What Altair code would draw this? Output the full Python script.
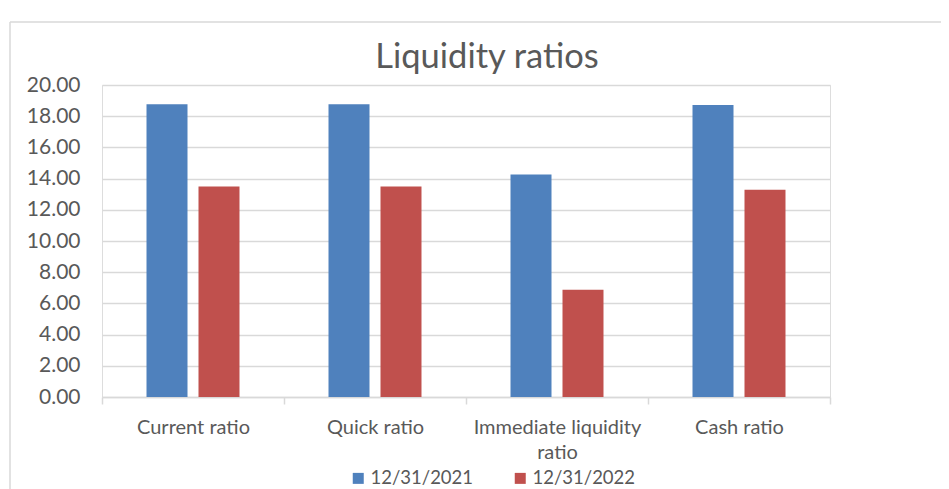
import altair as alt
import pandas as pd

# ---- data ----
categories = ["Current ratio", "Quick ratio", "Immediate liquidity ratio", "Cash ratio"]
series = ["12/31/2021", "12/31/2022"]
values_2021 = [18.77, 18.77, 14.27, 18.72]
values_2022 = [13.50, 13.50, 6.88, 13.29]
y_ticks = [0, 2, 4, 6, 8, 10, 12, 14, 16, 18, 20]
colors = ["#4F81BD", "#C0504D"]

rows = []
for cat, a, b in zip(categories, values_2021, values_2022):
    rows.append({"category": cat, "date": series[0], "value": a})
    rows.append({"category": cat, "date": series[1], "value": b})
df = pd.DataFrame(rows)

FONT = "Lato"
TXT = "#595959"
GRID = "#d9d9d9"
W, H = 728, 312
PAD = {"left": 94, "top": 77, "right": 111, "bottom": 92}

bars = alt.Chart(df).mark_bar().encode(
    x=alt.X(
        "category:N",
        sort=categories,
        scale=alt.Scale(paddingInner=0, paddingOuter=0),
        axis=alt.Axis(
            title=None,
            labelAngle=0,
            tickBand="extent",
            ticks=True,
            tickSize=7,
            tickColor=GRID,
            tickWidth=1.5,
            domainColor=GRID,
            domainWidth=1.5,
            grid=False,
            labelFont=FONT,
            labelFontSize=20,
            labelColor=TXT,
            labelPadding=13,
            labelLimit=400,
            labelLineHeight=25,
            labelExpr="datum.value == 'Immediate liquidity ratio' ? ['Immediate liquidity', 'ratio'] : datum.value",
        ),
    ),
    xOffset=alt.XOffset(
        "date:N",
        sort=series,
        scale=alt.Scale(paddingInner=0.2115, paddingOuter=0.856),
    ),
    y=alt.Y(
        "value:Q",
        scale=alt.Scale(domain=[0, 20], nice=False),
        axis=alt.Axis(
            title=None,
            values=y_ticks,
            format=".2f",
            domain=False,
            ticks=False,
            grid=True,
            gridColor=GRID,
            gridWidth=1.5,
            labelFont=FONT,
            labelFontSize=21,
            labelColor=TXT,
            labelPadding=22,
        ),
    ),
    color=alt.Color(
        "date:N",
        sort=series,
        scale=alt.Scale(domain=series, range=colors),
        legend=alt.Legend(
            title=None,
            orient="none",
            direction="horizontal",
            legendX=247,
            legendY=384,
            symbolType="square",
            symbolSize=121,
            symbolStrokeWidth=0,
            labelFont=FONT,
            labelFontSize=18.5,
            labelColor=TXT,
            labelOffset=3,
            columnPadding=37,
            padding=0,
        ),
    ),
)

frame = alt.Chart(alt.Data(values=[{}]))
left_border = frame.mark_rule(color=GRID, strokeWidth=1.5).encode(
    x=alt.value(-92), y=alt.value(-63), y2=alt.value(H + PAD["bottom"])
)
top_border = frame.mark_rule(color=GRID, strokeWidth=1.5).encode(
    x=alt.value(-92), x2=alt.value(W + PAD["right"]), y=alt.value(-63)
)

chart = (
    alt.layer(bars, left_border, top_border)
    .properties(
        width=W,
        height=H,
        autosize=alt.AutoSizeParams(type="none"),
        padding=PAD,
        title=alt.TitleParams(
            "Liquidity ratios",
            font=FONT,
            fontSize=34.5,
            fontWeight="normal",
            color=TXT,
            anchor="middle",
            dx=21,
            dy=58,
        ),
    )
    .configure_view(stroke=None)
    .configure(background="white")
)

chart.save("out.html", embed_options={"renderer": "svg", "actions": False})
